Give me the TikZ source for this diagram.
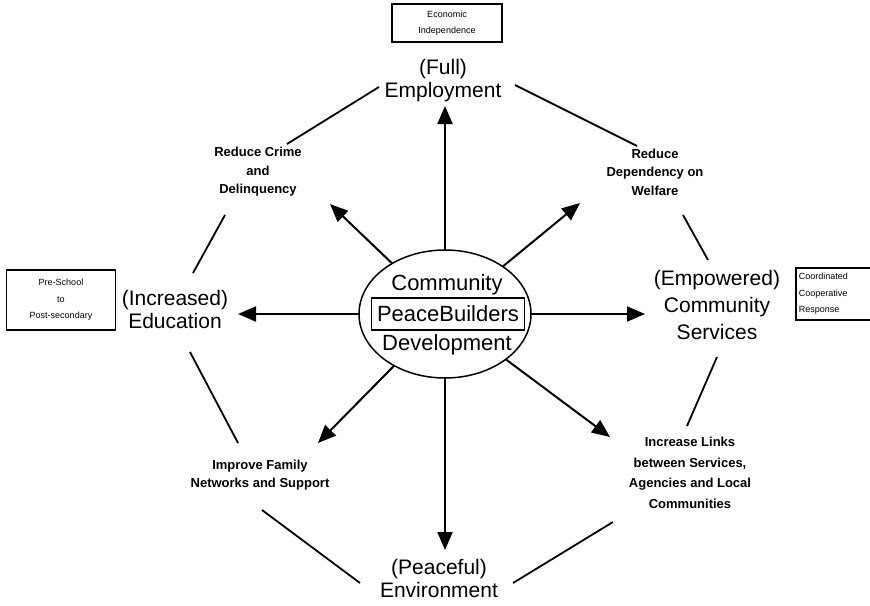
\documentclass[tikz,border=0pt]{standalone}
\usepackage{fontspec}
\setmainfont{Liberation Sans}
\usetikzlibrary{arrows.meta,shapes.geometric}
\begin{document}
\begin{tikzpicture}[x=1pt,y=-1pt,
  big/.style={font=\fontsize{21}{23}\selectfont, align=center, inner sep=0pt},
  small/.style={font=\bfseries\fontsize{13}{18.5}\selectfont, align=center, inner sep=0pt},
  tinybox/.style={draw, line width=1.5pt, font=\fontsize{9}{16.5}\selectfont, align=center, inner sep=0pt},
  arr/.style={line width=2pt, -{Triangle[length=18pt,width=15pt]}},
  conn/.style={line width=1.8pt}]
\clip (0,0) rectangle (870,605);
\fill[white] (0,0) rectangle (870,605);

% central ellipse
\node[draw, ellipse, line width=1.5pt, minimum width=172pt, minimum height=128pt, outer sep=0pt, inner sep=0pt] (cd) at (445,314) {};
\node[font=\fontsize{22}{24}\selectfont, inner sep=0pt] (comm) at (447,285) {Community};
\node[draw, line width=1.5pt, minimum width=153pt, minimum height=32pt, inner sep=0pt, font=\fontsize{22}{24}\selectfont] (pb) at (448,314) {PeaceBuilders};
\node[font=\fontsize{22}{24}\selectfont, inner sep=0pt] (dev) at (447,345) {Development};

% outer goals
\node[big] (emp) at (443,81) {(Full)\\Employment};
\node[big] (edu) at (175,309) {(Increased)\\Education};
\node[big, font=\fontsize{21}{27}\selectfont] (serv) at (717,305) {(Empowered)\\Community\\Services};
\node[big] (env) at (439,578) {(Peaceful)\\Environment};

% boxes
\node[tinybox, minimum width=110pt, minimum height=38pt] (eco) at (447,23) {Economic\\Independence};
\node[tinybox, minimum width=109pt, minimum height=60pt] (pre) at (61,300) {Pre-School\\to\\Post-secondary};
\node[tinybox, minimum height=52pt, text width=84pt, align=left, inner xsep=3pt, anchor=west] (coord) at (795,294) {Coordinated\\Cooperative\\Response};

% strategies
\node[small] (rc) at (258,172) {Reduce Crime\\and\\Delinquency};
\node[small] (rd) at (655,172) {Reduce\\Dependency on\\Welfare};
\node[small] (fam) at (260,475) {Improve Family\\Networks and Support};
\node[small, font=\bfseries\fontsize{13}{20.5}\selectfont] (links) at (690,473) {Increase Links\\between Services,\\Agencies and Local\\Communities};

% arrow tips
\coordinate (tN) at (445,106);
\coordinate (tW) at (238,314);
\coordinate (tE) at (645,314);
\coordinate (tS) at (445,550);
\coordinate (tNW) at (330,204);
\coordinate (tNE) at (580,203);
\coordinate (tSW) at (318,443);
\coordinate (tSE) at (610,437);
\foreach \t in {tN,tW,tE,tS,tNW,tNE,tSW,tSE}{\draw[arr] (cd) -- (\t);}

% connector ends
\coordinate (a1) at (379,87);  \coordinate (b1) at (287,144);
\coordinate (a2) at (515,85);  \coordinate (b2) at (637,146);
\coordinate (a3) at (225,215); \coordinate (b3) at (193,273);
\coordinate (a4) at (683,215); \coordinate (b4) at (708,260);
\coordinate (a5) at (190,352); \coordinate (b5) at (238,443);
\coordinate (a6) at (717,357); \coordinate (b6) at (687,426);
\coordinate (a7) at (262,510); \coordinate (b7) at (360,583);
\coordinate (a8) at (613,522); \coordinate (b8) at (513,583);
\foreach \i in {1,...,8}{\draw[conn] (a\i) -- (b\i);}
\end{tikzpicture}
\end{document}
